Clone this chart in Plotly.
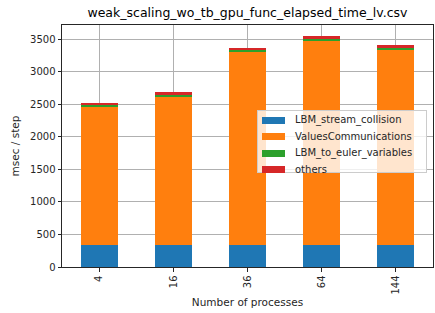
import plotly.graph_objects as go

categories = ["4", "16", "36", "64", "144"]
lbm_stream_collision = [333, 333, 333, 333, 333]
values_communications = [2130, 2290, 2970, 3150, 3007]
lbm_to_euler_variables = [40, 30, 35, 30, 35]
others = [25, 35, 30, 35, 35]

series = [
    ("LBM_stream_collision", lbm_stream_collision, "#1f77b4"),
    ("ValuesCommunications", values_communications, "#ff7f0e"),
    ("LBM_to_euler_variables", lbm_to_euler_variables, "#2ca02c"),
    ("others", others, "#d62728"),
]

# plot area in pixels
L, R, T, B = 62, 433, 25, 267
PW, PH = R - L, B - T


def px(x):
    return (x - L) / PW


def py(y):
    return (B - y) / PH


fig = go.Figure()
for name, vals, color in series:
    fig.add_trace(go.Bar(x=categories, y=vals, name=name, marker_color=color,
                         marker_line_width=0, width=0.5, showlegend=False))

font = "DejaVu Sans"

# matplotlib-style legend drawn with annotations (above grid lines)
annotations = [dict(xref="paper", yref="paper", x=px(257), y=py(110),
                    xanchor="left", yanchor="top", text=" ", showarrow=False,
                    width=168, height=61, borderpad=0, borderwidth=1,
                    bgcolor="rgba(255,255,255,0.8)", bordercolor="#cccccc",
                    font=dict(size=1))]
row0, dy = 120.4, 16.3
for i, (name, vals, color) in enumerate(series):
    cy = row0 + i * dy
    annotations.append(dict(xref="paper", yref="paper", x=px(262), y=py(cy),
                            xanchor="left", yanchor="middle", text=" ", showarrow=False,
                            width=23, height=7, borderpad=0, borderwidth=0,
                            bgcolor=color, font=dict(size=1)))
    annotations.append(dict(xref="paper", yref="paper", x=px(293), y=py(cy),
                            text=name, showarrow=False, xanchor="left", yanchor="middle",
                            font=dict(family=font, size=10, color="#262626")))

fig.update_layout(
    barmode="stack",
    width=435, height=313,
    margin=dict(l=L, r=435 - R, t=T, b=313 - B),
    paper_bgcolor="white", plot_bgcolor="white",
    font=dict(family=font, size=10, color="#262626"),
    title=dict(text="weak_scaling_wo_tb_gpu_func_elapsed_time_lv.csv",
               x=(L + R) / 2 / 435, xanchor="center",
               y=1 - 13 / 313, yanchor="middle",
               font=dict(family=font, size=12.5, color="black")),
    showlegend=False,
    annotations=annotations,
)
fig.update_xaxes(
    type="category", range=[-0.5, 4.5],
    showgrid=True, gridcolor="#b0b0b0", gridwidth=1,
    showline=True, linecolor="#262626", linewidth=1, mirror=True,
    ticks="outside", ticklen=3.5, tickcolor="#262626",
    tickangle=-90, layer="above traces", automargin=False,
    title=dict(text="Number of processes", font=dict(size=10.5), standoff=5),
)
fig.update_yaxes(
    range=[0, 3722],
    tickvals=[0, 500, 1000, 1500, 2000, 2500, 3000, 3500],
    showgrid=True, gridcolor="#b0b0b0", gridwidth=1,
    showline=True, linecolor="#262626", linewidth=1, mirror=True,
    ticks="outside", ticklen=3.5, tickcolor="#262626",
    zeroline=False, layer="above traces", automargin=False,
    title=dict(text="msec / step", font=dict(size=10.5), standoff=8),
)

fig.write_html("out.html", config={"displayModeBar": False},
               post_script="document.body.style.margin='0';document.body.style.padding='0';")
